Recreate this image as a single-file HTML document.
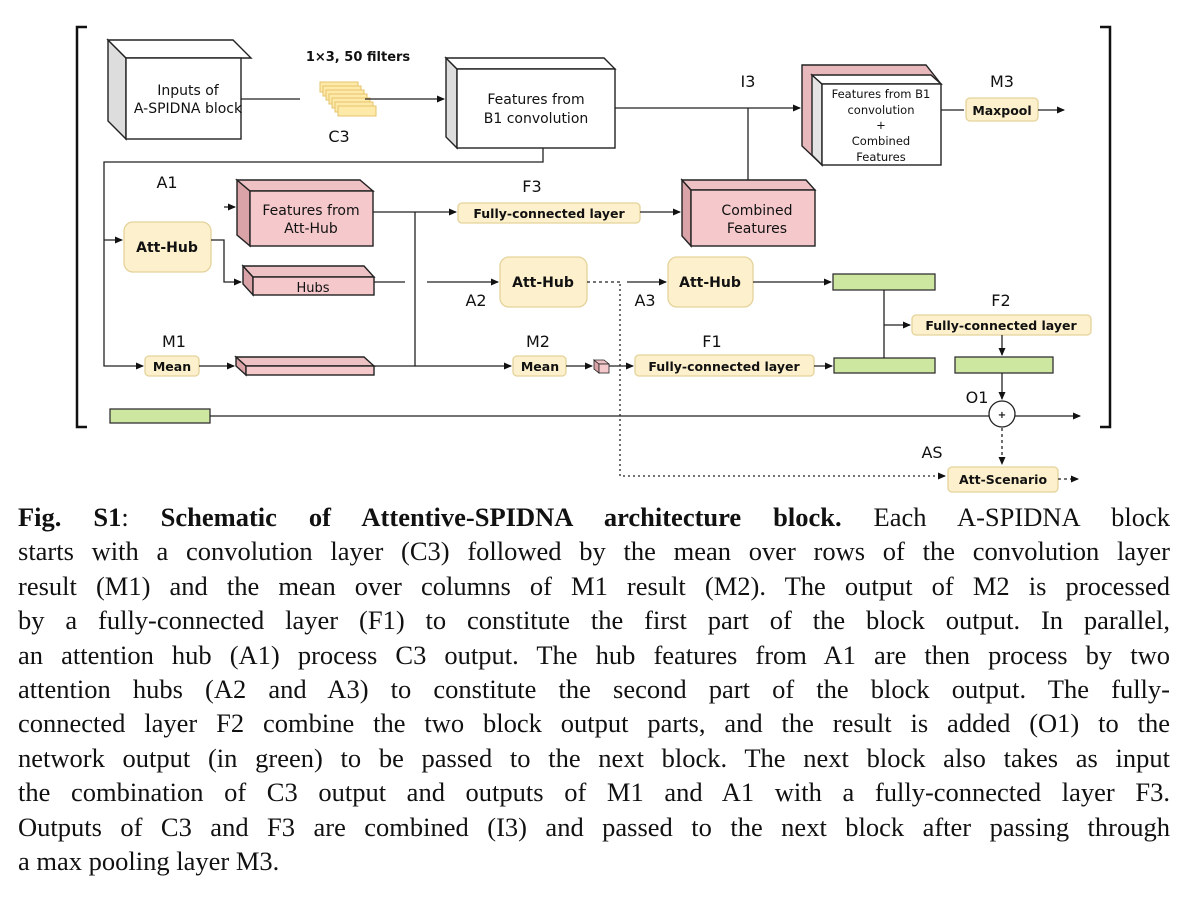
<!DOCTYPE html>
<html><head><meta charset="utf-8"><style>
body{margin:0;background:#fff;width:1199px;height:901px;overflow:hidden;position:relative}
svg{position:absolute;left:0;top:0}
svg text{font-family:"DejaVu Sans","Liberation Sans",sans-serif;fill:#111}
.b{font-weight:bold}
.cap{position:absolute;left:18px;width:1152px;font-family:"Liberation Serif",serif;font-size:26.5px;color:#111}
.cap div{height:34.4px;line-height:34.4px;text-align:justify;text-align-last:justify;white-space:nowrap}
.cap div.l{text-align-last:left}
</style></head><body>
<svg width="1199" height="500" viewBox="0 0 1199 500">
<defs><marker id="a" markerWidth="8" markerHeight="8" refX="7" refY="4" orient="auto" markerUnits="userSpaceOnUse"><path d="M0,0.5 L8,4 L0,7.5z" fill="#111"/></marker></defs>
<g fill="none" stroke="#111" stroke-width="2.5">
<path d="M87,27 H77 V427 H87"/><path d="M1100,27 H1110 V427 H1100"/>
</g>
<g stroke="#222" stroke-width="1.4">
<path d="M108,40 L126,58 L126,139 L108,121Z" fill="#ddd"/>
<path d="M108,40 L233,40 L251,58 L126,58Z" fill="#fff"/>
<rect x="126" y="58" width="115" height="81" fill="#fff"/>
<path d="M446,58 L457,69 L457,148 L446,137Z" fill="#ddd"/>
<path d="M446,58 L604,58 L615,69 L457,69Z" fill="#fff"/>
<rect x="457" y="69" width="158" height="79" fill="#fff"/>
<path d="M237,180 L250,191 L250,246 L237,235Z" fill="#d9a3a7"/>
<path d="M237,180 L360,180 L373,191 L250,191Z" fill="#eec1c4"/>
<rect x="250" y="191" width="123" height="55" fill="#f5c9cc"/>
<path d="M243,266 L253,277 L253,295 L243,284Z" fill="#d9a3a7"/>
<path d="M243,266 L364,266 L374,277 L253,277Z" fill="#eec1c4"/>
<rect x="253" y="277" width="121" height="18" fill="#f5c9cc"/>
<path d="M682,180 L691,190 L691,246 L682,236Z" fill="#d9a3a7"/>
<path d="M682,180 L806,180 L815,190 L691,190Z" fill="#eec1c4"/>
<rect x="691" y="190" width="124" height="56" fill="#f5c9cc"/>
<path d="M802,65 L926,65 L941,84 L822,84 L822,165 L802,146Z" fill="#e8b9bc"/>
<path d="M812,75 L822,84 L822,165 L812,155Z" fill="#e4e4e4"/>
<path d="M812,75 L931,75 L941,84 L822,84Z" fill="#fff"/>
<rect x="822" y="84" width="119" height="81" fill="#fff"/>
<path d="M236,357 L246,366 L246,375 L236,366Z" fill="#d9a3a7"/>
<path d="M236,357 L364,357 L374,366 L246,366Z" fill="#eec1c4"/>
<rect x="246" y="366" width="128" height="9" fill="#f5c9cc"/>
<path d="M594,360 L599,364 L599,373 L594,369Z" fill="#d9a3a7" stroke-width="0.8"/>
<path d="M594,360 L604,360 L609,364 L599,364Z" fill="#eec1c4" stroke-width="0.8"/>
<rect x="599" y="364" width="10" height="9" fill="#f5c9cc" stroke-width="0.8"/>
</g>
<g fill="#fde9a8" stroke="#e6c36b" stroke-width="1">
<rect x="320" y="82" width="38" height="10"/><rect x="323" y="86" width="38" height="10"/><rect x="326" y="90" width="38" height="10"/><rect x="329" y="94" width="38" height="10"/><rect x="332" y="98" width="38" height="10"/><rect x="335" y="102" width="38" height="10"/><rect x="338" y="106" width="38" height="10"/>
</g>
<g fill="#fdf0cc" stroke="#e5d39b" stroke-width="1.3">
<rect x="124" y="222" width="87" height="50" rx="9"/>
<rect x="500" y="257" width="87" height="50" rx="9"/>
<rect x="668" y="257" width="85" height="50" rx="9"/>
<rect x="458" y="203" width="182" height="20" rx="4"/>
<rect x="966" y="98" width="72" height="23" rx="4"/>
<rect x="912" y="315" width="179" height="20" rx="4"/>
<rect x="145" y="356" width="54" height="20" rx="4"/>
<rect x="513" y="356" width="53" height="20" rx="4"/>
<rect x="635" y="355" width="179" height="21" rx="4"/>
<rect x="948" y="467" width="110" height="25" rx="4"/>
</g>
<g fill="#cde6a0" stroke="#333" stroke-width="1.3">
<rect x="833" y="274" width="102" height="16"/>
<rect x="834" y="358" width="101" height="15"/>
<rect x="955" y="357" width="98" height="16"/>
<rect x="110" y="409" width="100" height="14"/>
</g>
<g fill="none" stroke="#222" stroke-width="1.3">
<path d="M241,99 H300"/><path d="M365,99 H444" marker-end="url(#a)"/>
<path d="M615,108 H800" marker-end="url(#a)"/><path d="M748,108 V180"/>
<path d="M543,148 V162 H104 V366 H143" marker-end="url(#a)"/>
<path d="M104,240 H122" marker-end="url(#a)"/>
<path d="M211,240 H224 V282 H241" marker-end="url(#a)"/><path d="M224,207 H235" marker-end="url(#a)"/>
<path d="M373,212 H456" marker-end="url(#a)"/><path d="M415,212 V366 H374"/>
<path d="M640,212 H680" marker-end="url(#a)"/>
<path d="M374,282 H405"/><path d="M427,282 H498" marker-end="url(#a)"/>
<path d="M627,282 H666" marker-end="url(#a)"/>
<path d="M753,282 H831" marker-end="url(#a)"/>
<path d="M941,110 H964"/><path d="M1038,110 H1064" marker-end="url(#a)"/>
<path d="M884,290 V358"/><path d="M884,325 H910" marker-end="url(#a)"/>
<path d="M1002,335 V355" marker-end="url(#a)"/><path d="M1002,373 V399" marker-end="url(#a)"/>
<path d="M210,416 H989"/><path d="M1015,416 H1080" marker-end="url(#a)"/>
<path d="M199,366 H234" marker-end="url(#a)"/>
<path d="M415,366 H511" marker-end="url(#a)"/>
<path d="M566,366 H592" marker-end="url(#a)"/>
<path d="M609,366 H633" marker-end="url(#a)"/>
<path d="M814,366 H832" marker-end="url(#a)"/>
<circle cx="1002" cy="414" r="13" fill="#fff"/>
<path d="M587,282 H622" stroke-dasharray="3,3"/>
<path d="M620,284 V476 H945" stroke-dasharray="2,3" marker-end="url(#a)"/>
<path d="M1002,428 V464" stroke-dasharray="3,3" marker-end="url(#a)"/>
<path d="M1058,479 H1078" stroke-dasharray="3,3" marker-end="url(#a)"/>
</g>
<g font-size="14" text-anchor="middle">
<text x="188" y="95">Inputs of</text><text x="188" y="113">A-SPIDNA block</text>
<text x="536" y="104">Features from</text><text x="536" y="123">B1 convolution</text>
<text x="311" y="215">Features from</text><text x="311" y="233">Att-Hub</text>
<text x="313" y="292" font-size="13">Hubs</text>
<text x="757" y="215">Combined</text><text x="757" y="233">Features</text>
<g font-size="11.5"><text x="881" y="98">Features from B1</text><text x="881" y="114">convolution</text><text x="881" y="129">+</text><text x="881" y="145">Combined</text><text x="881" y="161">Features</text></g>
<text x="358" y="61" class="b" font-size="13">1×3, 50 filters</text>
<g font-size="16"><text x="339" y="142">C3</text><text x="167" y="188">A1</text><text x="532" y="192">F3</text><text x="748" y="87">I3</text><text x="1002" y="87">M3</text>
<text x="476" y="306">A2</text><text x="645" y="306">A3</text><text x="1001" y="306">F2</text><text x="174" y="347">M1</text><text x="538" y="347">M2</text><text x="712" y="347">F1</text><text x="977" y="403">O1</text><text x="932" y="458">AS</text></g>
<g class="b" font-size="14"><text x="167" y="252">Att-Hub</text><text x="543" y="287">Att-Hub</text><text x="710" y="287">Att-Hub</text></g>
<g class="b" font-size="12.5"><text x="549" y="218">Fully-connected layer</text><text x="1002" y="115">Maxpool</text><text x="1001" y="330">Fully-connected layer</text><text x="172" y="371">Mean</text><text x="540" y="371">Mean</text><text x="724" y="371">Fully-connected layer</text><text x="1003" y="484">Att-Scenario</text></g>
<text x="1002" y="418" font-size="10" class="b">+</text>
</g>
</svg>
<div class="cap" style="top:500px">
<div><b>Fig. S1</b>: <b>Schematic of Attentive-SPIDNA architecture block.</b> Each A-SPIDNA block</div>
<div>starts with a convolution layer (C3) followed by the mean over rows of the convolution layer</div>
<div>result (M1) and the mean over columns of M1 result (M2). The output of M2 is processed</div>
<div>by a fully-connected layer (F1) to constitute the first part of the block output. In parallel,</div>
<div>an attention hub (A1) process C3 output. The hub features from A1 are then process by two</div>
<div>attention hubs (A2 and A3) to constitute the second part of the block output. The fully-</div>
<div>connected layer F2 combine the two block output parts, and the result is added (O1) to the</div>
<div>network output (in green) to be passed to the next block. The next block also takes as input</div>
<div>the combination of C3 output and outputs of M1 and A1 with a fully-connected layer F3.</div>
<div>Outputs of C3 and F3 are combined (I3) and passed to the next block after passing through</div>
<div class="l">a max pooling layer M3.</div>
</div>
</body></html>
